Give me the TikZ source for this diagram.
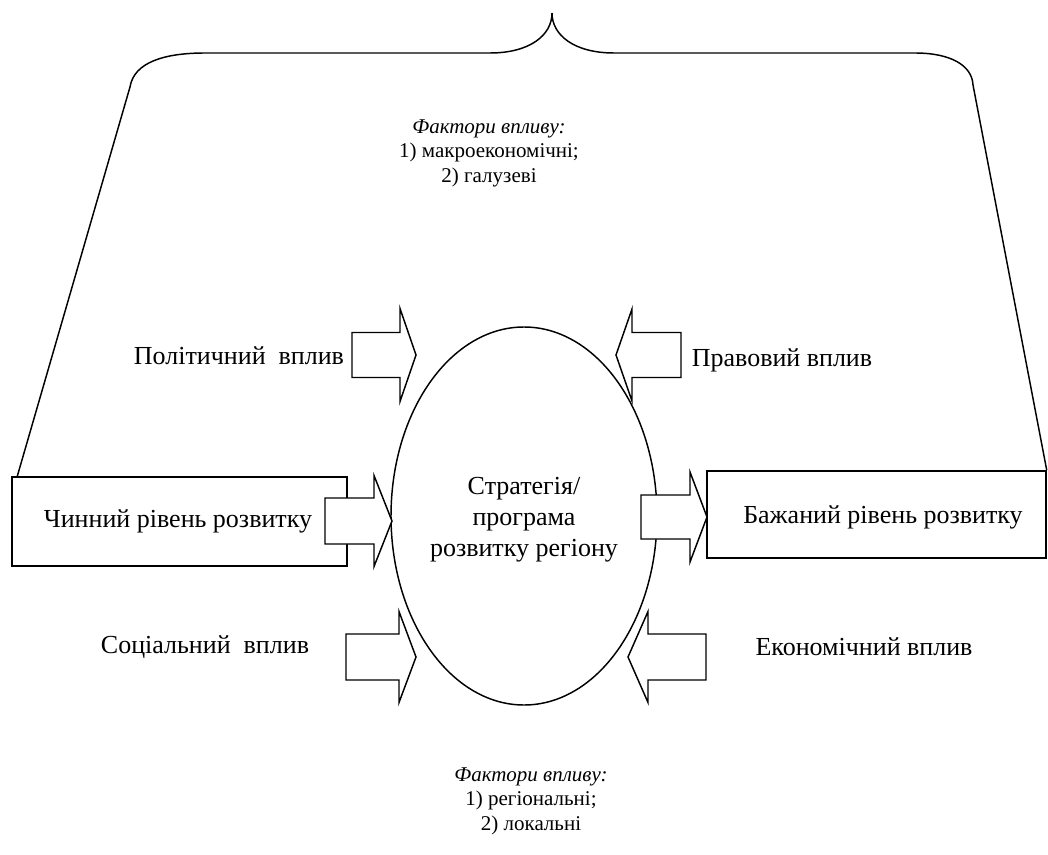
\documentclass[tikz,border=0pt]{standalone}
\usepackage{fontspec}
\setmainfont{Liberation Serif}
\usetikzlibrary{shapes.geometric}
\newcommand{\blockarrow}[7]{%
  \draw[blockstyle] (#2,{#5-#6}) -- (#3,{#5-#6}) -- (#3,{#5-#7}) -- (#4,#5) coordinate (#1)
    -- (#3,{#5+#7}) -- (#3,{#5+#6}) -- (#2,{#5+#6}) -- cycle;}
\begin{document}
\begin{tikzpicture}[x=0.75pt,y=-0.75pt,line width=1.1pt,
  blockstyle/.style={draw=black,fill=white,line width=1.1pt},
  lbl/.style={font=\fontsize{19.5}{23.25}\selectfont,inner sep=0pt,align=center},
  factor/.style={font=\fontsize{15.75}{18.4}\selectfont,inner sep=0pt,align=center},
  levelbox/.style={draw=black,fill=white,line width=1.1pt,rectangle,inner sep=0pt,
    font=\fontsize{19.5}{23.25}\selectfont}]
\useasboundingbox (0,0) rectangle (1048,855);
% boxes
\node[levelbox,minimum width=251.25pt,minimum height=66.75pt] (chin) at (179.5,521.5) {};
\node[lbl] (chintext) at (178,521) {Чинний рівень розвитку};
\node[levelbox,minimum width=254.25pt,minimum height=65.25pt] (bazh) at (876.5,514.5) {};
\node[lbl] (bazhtext) at (883,517) {Бажаний рівень розвитку};
% brace
\draw (chin.north west) ++(6,0) coordinate (bl)
  (bazh.north east) coordinate (br);
\draw (bl) -- (130,87) .. controls (134,62) and (165,53) .. (205,53) -- (490,53)
  .. controls (530,53) and (552,35) .. (552,13)
  .. controls (552,35) and (574,53) .. (614,53) -- (915,53)
  .. controls (950,53) and (972,65) .. (973,85) -- (br);
% arrow under the ellipse
\blockarrow{pravtip}{681}{632}{616}{355}{22.5}{46}
% ellipse
\node[draw,ellipse,line width=1.1pt,minimum width=199.5pt,minimum height=283.5pt,inner sep=0pt] (strat) at (524,516) {};
\node[lbl] (strattext) at (524,520) {Стратегія/\\програма\\розвитку регіону};
% arrows over
\blockarrow{polittip}{352}{400}{416}{355}{22.5}{46.5}
\blockarrow{chintip}{325}{374}{392}{521}{23}{45.5}
\blockarrow{bazhtip}{641}{690}{707}{517}{22}{45}
\blockarrow{soctip}{346}{399}{416}{657}{23}{45.5}
\blockarrow{ekontip}{706}{648}{628}{657}{23}{45.5}
% labels
\node[lbl] (polit) at (239,356) {Політичний~~вплив};
\node[lbl] (prav) at (782,360) {Правовий вплив};
\node[lbl] (soc) at (205,647) {Соціальний~~вплив};
\node[lbl] (ekon) at (864,647) {Економічний вплив};
% factors
\node[factor] (topfac) at (489,153) {\textit{Фактори впливу:}\\1) макроекономічні;\\2) галузеві};
\node[factor] (botfac) at (531,801) {\textit{Фактори впливу:}\\1) регіональні;\\2) локальні};
\end{tikzpicture}
\end{document}
